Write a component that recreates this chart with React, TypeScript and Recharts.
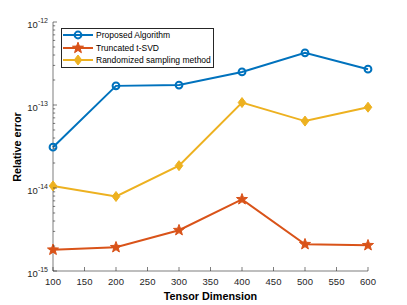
import { LineChart, Line, XAxis, YAxis, Legend } from 'recharts';

// Tensor dimension (x) and relative error per method
const DIMS = [100, 200, 300, 400, 500, 600];
const PROPOSED = [3.1e-14, 1.7e-13, 1.74e-13, 2.5e-13, 4.25e-13, 2.7e-13];
const TRUNCATED = [1.8e-15, 1.93e-15, 3.1e-15, 7.3e-15, 2.1e-15, 2.04e-15];
const RANDOMIZED = [1.06e-14, 7.9e-15, 1.86e-14, 1.07e-13, 6.4e-14, 9.4e-14];

const X_TICKS = [100, 150, 200, 250, 300, 350, 400, 450, 500, 550, 600];
const Y_EXPONENTS = [-15, -14, -13, -12];
const MINOR_STEPS = [2, 3, 4, 5, 6, 7, 8, 9];

const SERIES = [
  { key: 'proposed', name: 'Proposed Algorithm', color: '#0072BD', marker: 'circle' },
  { key: 'truncated', name: 'Truncated t-SVD', color: '#D95319', marker: 'star' },
  { key: 'randomized', name: 'Randomized sampling method', color: '#EDB120', marker: 'diamond' },
];

const FONT = '"Liberation Sans", Arial, Helvetica, sans-serif';
const AXIS = '#262626';

const data = DIMS.map((dim, i) => ({
  dim,
  proposed: PROPOSED[i],
  truncated: TRUNCATED[i],
  randomized: RANDOMIZED[i],
}));

// major decades plus minor 2..9 ticks in between
const Y_TICKS: number[] = [];
Y_EXPONENTS.forEach((e, i) => {
  Y_TICKS.push(Math.pow(10, e));
  if (i < Y_EXPONENTS.length - 1) MINOR_STEPS.forEach((m) => Y_TICKS.push(m * Math.pow(10, e)));
});

const isMajor = (v: number) => {
  const l = Math.log10(v);
  return Math.abs(l - Math.round(l)) < 1e-6;
};

function starPoints(cx: number, cy: number, R: number, r: number) {
  const pts: string[] = [];
  for (let i = 0; i < 10; i++) {
    const a = (-90 + i * 36) * (Math.PI / 180);
    const rad = i % 2 === 0 ? R : r;
    pts.push(`${cx + rad * Math.cos(a)},${cy + rad * Math.sin(a)}`);
  }
  return pts.join(' ');
}

function Marker({ kind, cx, cy, color }: { kind: string; cx: number; cy: number; color: string }) {
  if (cx == null || cy == null || isNaN(cx) || isNaN(cy)) return null;
  if (kind === 'circle') {
    return <circle cx={cx} cy={cy} r={3.4} fill="none" stroke={color} strokeWidth={2} />;
  }
  if (kind === 'star') {
    return <polygon points={starPoints(cx, cy, 5.8, 2.4)} fill={color} stroke={color} strokeWidth={1} />;
  }
  return (
    <polygon
      points={`${cx},${cy - 5} ${cx + 3.8},${cy} ${cx},${cy + 5} ${cx - 3.8},${cy}`}
      fill={color}
      stroke={color}
      strokeWidth={1}
    />
  );
}

const BottomTick = (props: any) => {
  const { x, y, payload } = props;
  return (
    <g>
      <line x1={x} x2={x} y1={y} y2={y - 4} stroke={AXIS} strokeWidth={0.6} />
      <text x={x} y={y + 14} textAnchor="middle" fontSize={9.5} fill={AXIS} fontFamily={FONT}>
        {payload.value}
      </text>
    </g>
  );
};

const TopTick = (props: any) => {
  const { x, y } = props;
  return <line x1={x} x2={x} y1={y} y2={y + 4} stroke={AXIS} strokeWidth={0.6} />;
};

const LeftTick = (props: any) => {
  const { x, y, payload } = props;
  const major = isMajor(payload.value);
  const exp = Math.round(Math.log10(payload.value));
  return (
    <g>
      <line x1={x} x2={x + (major ? 4 : 2.2)} y1={y} y2={y} stroke={AXIS} strokeWidth={0.6} />
      {major && (
        <text x={x - 5} y={y + 5.5} textAnchor="end" fontSize={9.5} fill={AXIS} fontFamily={FONT}>
          10
          <tspan dy={-4.5} fontSize={7}>
            {exp}
          </tspan>
        </text>
      )}
    </g>
  );
};

const RightTick = (props: any) => {
  const { x, y, payload } = props;
  const major = isMajor(payload.value);
  return <line x1={x} x2={x - (major ? 4 : 2.2)} y1={y} y2={y} stroke={AXIS} strokeWidth={0.6} />;
};

function renderLegend() {
  return (
    <div
      style={{
        border: `1px solid ${AXIS}`,
        background: '#fff',
        padding: '0px 2px 0px 0px',
        fontFamily: FONT,
        fontSize: 8.5,
        color: '#000',
        lineHeight: '12.6px',
      }}
    >
      {SERIES.map((s) => (
        <div key={s.key} style={{ display: 'flex', alignItems: 'center', whiteSpace: 'nowrap', height: 12.6 }}>
          <svg width={32} height={12} style={{ marginRight: 2 }}>
            <line x1={1} x2={31} y1={6} y2={6} stroke={s.color} strokeWidth={2} />
            <Marker kind={s.marker} cx={16} cy={6} color={s.color} />
          </svg>
          <span>{s.name}</span>
        </div>
      ))}
    </div>
  );
}

export default function App() {
  return (
    <div style={{ position: 'absolute', left: 0, top: 0, width: 407, height: 305, background: '#fff' }}>
      <LineChart width={407} height={305} data={data} margin={{ top: 22, right: 39, bottom: 0, left: 0 }}>
        <XAxis
          xAxisId="b"
          dataKey="dim"
          type="number"
          domain={[100, 600]}
          ticks={X_TICKS}
          interval={0}
          height={34}
          tickSize={0}
          tickMargin={0}
          tickLine={false}
          axisLine={{ stroke: AXIS, strokeWidth: 0.6 }}
          tick={BottomTick}
        />
        <XAxis
          xAxisId="t"
          orientation="top"
          dataKey="dim"
          type="number"
          domain={[100, 600]}
          ticks={X_TICKS}
          interval={0}
          height={0}
          tickSize={0}
          tickMargin={0}
          tickLine={false}
          axisLine={{ stroke: AXIS, strokeWidth: 0.6 }}
          tick={TopTick}
        />
        <YAxis
          yAxisId="l"
          type="number"
          scale="log"
          domain={[1e-15, 1e-12]}
          allowDataOverflow
          ticks={Y_TICKS}
          interval={0}
          width={53}
          tickSize={0}
          tickMargin={0}
          tickLine={false}
          axisLine={{ stroke: AXIS, strokeWidth: 0.6 }}
          tick={LeftTick}
        />
        <YAxis
          yAxisId="r"
          orientation="right"
          type="number"
          scale="log"
          domain={[1e-15, 1e-12]}
          allowDataOverflow
          ticks={Y_TICKS}
          interval={0}
          width={0}
          tickSize={0}
          tickMargin={0}
          tickLine={false}
          axisLine={{ stroke: AXIS, strokeWidth: 0.6 }}
          tick={RightTick}
        />
        <Legend
          layout="vertical"
          align="center"
          verticalAlign="middle"
          content={renderLegend}
          wrapperStyle={{ left: 61, top: 28, width: 'auto', height: 'auto' }}
        />
        {SERIES.map((s) => (
          <Line
            key={s.key}
            xAxisId="b"
            yAxisId="l"
            dataKey={s.key}
            name={s.name}
            stroke={s.color}
            strokeWidth={2}
            isAnimationActive={false}
            dot={(p: any) => <Marker key={`${s.key}-${p.index}`} kind={s.marker} cx={p.cx} cy={p.cy} color={s.color} />}
            activeDot={false}
          />
        ))}
      </LineChart>
      <div
        style={{
          position: 'absolute',
          left: 53,
          width: 315,
          top: 289.5,
          textAlign: 'center',
          fontFamily: FONT,
          fontSize: 10.8,
          fontWeight: 'bold',
          color: '#000',
          lineHeight: '12px',
        }}
      >
        Tensor Dimension
      </div>
      <div
        style={{
          position: 'absolute',
          left: 17,
          top: 146.5,
          transform: 'translate(-50%, -50%) rotate(-90deg)',
          fontFamily: FONT,
          fontSize: 10.8,
          fontWeight: 'bold',
          color: '#000',
          whiteSpace: 'nowrap',
          lineHeight: '12px',
        }}
      >
        Relative error
      </div>
    </div>
  );
}
